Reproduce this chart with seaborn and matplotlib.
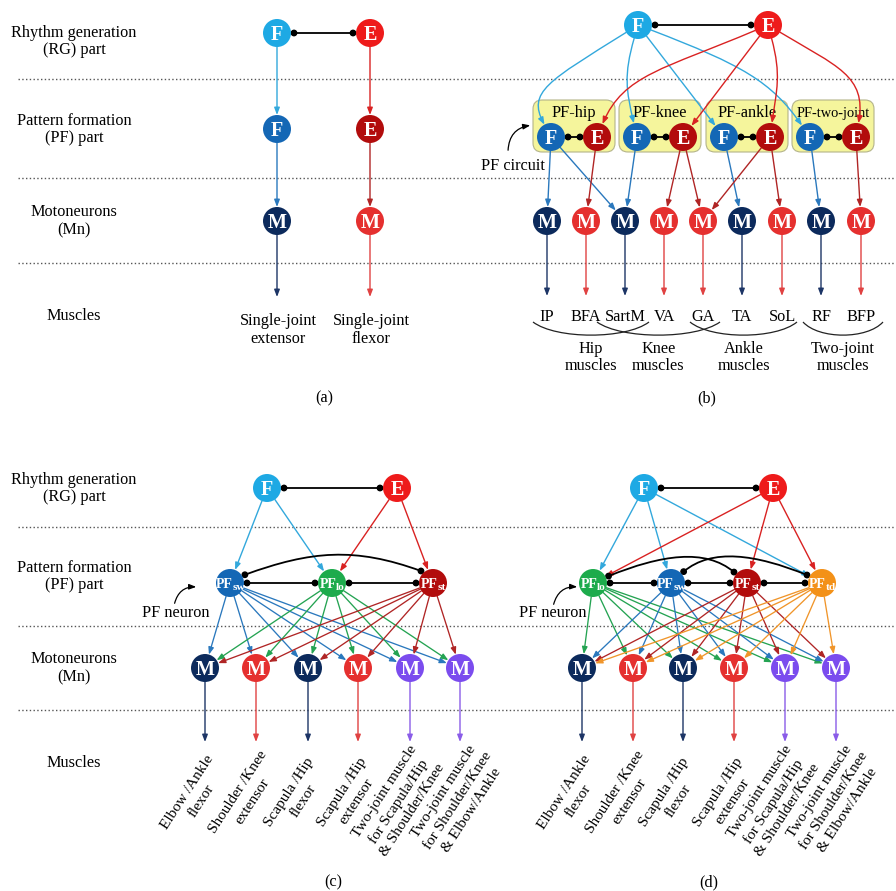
import numpy as np
import pandas as pd
import matplotlib
matplotlib.use("Agg")
import matplotlib.pyplot as plt
from matplotlib.patches import FancyArrowPatch, FancyBboxPatch, Circle, PathPatch
from matplotlib.path import Path
from matplotlib.textpath import TextPath
from matplotlib.font_manager import FontProperties
import seaborn as sns

# ---------------------------------------------------------------- content
ROW_NAMES = ["Rhythm generation\n(RG) part", "Pattern formation\n(PF) part",
             "Motoneurons\n(Mn)", "Muscles"]
PANEL_TAGS = ["(a)", "(b)", "(c)", "(d)"]

# (a) single-joint scheme
A_HALVES = ["F", "E"]
A_MN_KIND = ["mnF", "mnE"]
A_MUSCLES = ["Single-joint\nextensor", "Single-joint\nflexor"]

# (b) hindlimb scheme with one PF circuit per joint
B_CIRCUITS = ["PF-hip", "PF-knee", "PF-ankle", "PF-two-joint"]
B_MUSCLES = ["IP", "BFA", "SartM", "VA", "GA", "TA", "SoL", "RF", "BFP"]
B_MN_KIND = ["mnF", "mnE", "mnF", "mnE", "mnE", "mnF", "mnE", "mnF", "mnE"]
# (circuit, half, motoneuron)
B_PF_TO_MN = [(0, "F", 0), (0, "F", 2), (0, "E", 1), (1, "F", 2), (1, "E", 3),
              (1, "E", 4), (2, "F", 5), (2, "E", 4), (2, "E", 6), (3, "F", 7),
              (3, "E", 8)]
B_GROUPS = ["Hip\nmuscles", "Knee\nmuscles", "Ankle\nmuscles", "Two-joint\nmuscles"]

# (c) / (d) quadruped limb schemes
LIMB_MUSCLES = ["Elbow /Ankle\nflexor", "Shoulder /Knee\nextensor",
                "Scapula /Hip\nflexor", "Scapula /Hip\nextensor",
                "Two-joint muscle\nfor Scapula/Hip\n& Shoulder/Knee",
                "Two-joint muscle\nfor Shoulder/Knee\n& Elbow/Ankle"]
LIMB_MN_KIND = ["mnF", "mnE", "mnF", "mnE", "mn2", "mn2"]

C_PF = ["sw", "lo", "st"]
C_PF_KIND = ["pfF", "lo", "pfE"]
C_RG_LINKS = [("F", "sw"), ("F", "lo"), ("E", "lo"), ("E", "st")]
C_INHIBIT = [("sw", "lo"), ("lo", "st"), ("sw", "st")]

D_PF = ["lo", "sw", "st", "td"]
D_PF_KIND = ["lo", "pfF", "pfE", "td"]
D_RG_LINKS = [("F", "lo"), ("F", "sw"), ("F", "td"),
              ("E", "lo"), ("E", "st"), ("E", "td")]
D_INHIBIT = [("lo", "sw"), ("sw", "st"), ("st", "td"), ("lo", "st"), ("sw", "td")]

# ---------------------------------------------------------------- look
FILL = {"rgF": "#1ea9e4", "rgE": "#ee1b1b", "pfF": "#1467b5", "pfE": "#b20c0c",
        "mnF": "#0c2a5c", "mnE": "#e5302f", "mn2": "#7b4cee",
        "lo": "#1dab4c", "td": "#f39118"}
WIRE = {"rgF": "#33a8dc", "rgE": "#d92222", "pfF": "#2a78bd", "pfE": "#b02525",
        "mnF": "#1d3566", "mnE": "#e04242", "mn2": "#8a5ce8",
        "lo": "#24a352", "td": "#f0952a"}

sns.set_theme(style="white")
plt.rcParams["font.family"] = ["Liberation Serif", "DejaVu Serif"]

W, H = 896, 891
PX = 100 / 72   # pixels per point
fig = plt.figure(figsize=(W / 100, H / 100), dpi=100)
ax = fig.add_axes([0, 0, 1, 1])

R = 14          # node radius (px)
TXT = 11.7      # body text size (pt)
BOLD = FontProperties(family="Liberation Serif", weight="bold")
nodes = []


def add_node(xy, kind, label, sub=None, fs=14.5):
    nodes.append(dict(x=xy[0], y=xy[1], kind=kind, label=label, sub=sub, fs=fs))


def _dir(deg):
    t = np.radians(deg)
    return np.array([np.cos(t), np.sin(t)])


def wire(p, q, color, t0=None, t1=None, a0=None, a1=None, ra=R, rb=R,
         k0=0.4, k1=0.4, head=True, lw=1.0, z=3):
    """Cubic connector between two node centres (y grows downwards)."""
    p = np.asarray(p, float)
    q = np.asarray(q, float)
    chord = np.degrees(np.arctan2(q[1] - p[1], q[0] - p[0]))
    t0 = chord if t0 is None else t0
    t1 = chord if t1 is None else t1
    a0 = t0 if a0 is None else a0
    a1 = t1 + 180 if a1 is None else a1
    s = p + ra * _dir(a0)
    e = q + rb * _dir(a1)
    L = np.hypot(*(e - s))
    c1 = s + k0 * L * _dir(t0)
    c2 = e - k1 * L * _dir(t1)
    path = Path([s, c1, c2, e], [Path.MOVETO, Path.CURVE4, Path.CURVE4, Path.CURVE4])
    if head:
        ax.add_patch(FancyArrowPatch(path=path,
                                     arrowstyle="-|>,head_length=0.42,head_width=0.16",
                                     mutation_scale=10, color=color, lw=lw, zorder=z))
    else:
        ax.add_patch(PathPatch(path, fill=False, edgecolor=color, lw=lw, zorder=z))
    return s, e


def inhibit(p, q, **kw):
    s, e = wire(p, q, "black", head=False, ra=R + 3, rb=R + 3, lw=1.3, **kw)
    for c in (s, e):
        ax.add_patch(Circle(c, 2.7, color="black", zorder=4))


def label(x, y, s, fs=TXT, **kw):
    ax.text(x, y, s, fontsize=fs, ha="center", va="center", linespacing=1.15,
            color="black", **kw)


def slanted(x, y, s, angle=57, step=17.0, fs=11.0):
    """Rotated multi-line caption; (x, y) is the centre of the first line."""
    normal = _dir(90 - angle)          # perpendicular to the text, pointing down-right
    for k, line in enumerate(s.split("\n")):
        cx, cy = np.array([x, y]) + k * step * normal
        ax.text(cx, cy, line, fontsize=fs, rotation=angle, rotation_mode="anchor",
                ha="center", va="center_baseline", color="black")


def text_width(s, fs):
    return TextPath((0, 0), s, size=fs * PX, prop=BOLD).get_extents().width


# ---------------------------------------------------------------- frame
for y in [79, 178, 263, 527, 626, 710]:
    ax.plot([18, W], [y, y], color="#555555", lw=1.0, ls=(0, (1, 1.7)), zorder=1)

for ys in ([41.5, 129.5, 221, 316], [488.5, 576.5, 668, 763]):
    for name, y in zip(ROW_NAMES, ys):
        label(74, y, name)

for tag, (x, y) in zip(PANEL_TAGS, [(324, 398), (707, 398), (333, 882), (709, 882)]):
    label(x, y, tag)

# ---------------------------------------------------------------- (a)
A_X = [277, 370]
for half, x, mk, mus in zip(A_HALVES, A_X, A_MN_KIND, A_MUSCLES):
    rg, pf, mn = (x, 33), (x, 129), (x, 221)
    add_node(rg, "rg" + half, half)
    add_node(pf, "pf" + half, half)
    add_node(mn, mk, "M")
    wire(rg, pf, WIRE["rg" + half])
    wire(pf, mn, WIRE["pf" + half])
    wire(mn, (x, 297), WIRE[mk], rb=0)
    label(x + 1, 330, mus)
inhibit((A_X[0], 33), (A_X[1], 33))

# ---------------------------------------------------------------- (b)
B_RG = {"F": (638, 25), "E": (768, 25)}
for h in "FE":
    add_node(B_RG[h], "rg" + h, h)
inhibit(B_RG["F"], B_RG["E"])

B_BOX_X = [574, 660, 747, 833]
B_PF = {}
for i, (name, bx) in enumerate(zip(B_CIRCUITS, B_BOX_X)):
    ax.add_patch(FancyBboxPatch((bx - 41, 100), 82, 52,
                                boxstyle="round,pad=0,rounding_size=9",
                                facecolor="#f5f59c", edgecolor="#b4b48a",
                                lw=0.8, zorder=1.5))
    label(bx, 113, name, fs=TXT if i < 3 else 10.4)
    B_PF[(i, "F")] = (bx - 23, 137)
    B_PF[(i, "E")] = (bx + 23, 137)
    add_node(B_PF[(i, "F")], "pfF", "F")
    add_node(B_PF[(i, "E")], "pfE", "E")
    inhibit(B_PF[(i, "F")], B_PF[(i, "E")])

B_RG_SHAPE = {
    ("F", 0): dict(t0=148, t1=62, k0=0.75, k1=0.3),
    ("F", 1): dict(t0=106, t1=77, k0=0.45, k1=0.4),
    ("F", 2): dict(),
    ("F", 3): dict(t0=21, t1=55, k0=0.55, k1=0.3),
    ("E", 0): dict(t0=157, t1=113, k0=0.55, k1=0.3),
    ("E", 1): dict(),
    ("E", 2): dict(t0=75, t1=98, k0=0.45, k1=0.4),
    ("E", 3): dict(t0=31, t1=100, k0=0.55, k1=0.4),
}
for (h, i), shape in B_RG_SHAPE.items():
    wire(B_RG[h], B_PF[(i, h)], WIRE["rg" + h], **shape)

B_MN_X = [547, 586, 625, 664, 703, 742, 782, 821, 861]
for x, mk, mus in zip(B_MN_X, B_MN_KIND, B_MUSCLES):
    add_node((x, 221), mk, "M")
    wire((x, 221), (x, 296), WIRE[mk], rb=0)
    label(x, 317, mus)
for i, h, m in B_PF_TO_MN:
    wire(B_PF[(i, h)], (B_MN_X[m], 221), WIRE["pf" + h])

B_SPANS = [(533, 649), (597, 720), (690, 797), (803, 883)]
for name, (x0, x1) in zip(B_GROUPS, B_SPANS):
    span = x1 - x0
    top, dip = 322, 17.5
    brace = Path([(x0, top), (x0 + 0.2 * span, top + dip),
                  (x1 - 0.2 * span, top + dip), (x1, top)],
                 [Path.MOVETO, Path.CURVE4, Path.CURVE4, Path.CURVE4])
    ax.add_patch(PathPatch(brace, fill=False, edgecolor="#222222", lw=0.9, zorder=2))
    label((x0 + x1) / 2, 357.5, name)

label(513, 166, "PF circuit")
ax.add_patch(FancyArrowPatch((508, 153), (533, 125), connectionstyle="arc3,rad=-0.45",
                             arrowstyle="-|>,head_length=0.42,head_width=0.16",
                             mutation_scale=10, color="black", lw=0.9, zorder=3))

# ---------------------------------------------------------------- (c) and (d)
CAPTION_DX = [-19, -19, -20, -17, -27, -18]   # first-line centre relative to its Mn


def limb_panel(rg_x, pf_names, pf_kinds, pf_x, rg_links, inhibits, arc_shapes,
               mn_x, note_xy, note_arrow):
    rg = {"F": (rg_x[0], 488), "E": (rg_x[1], 488)}
    for h in "FE":
        add_node(rg[h], "rg" + h, h)
    inhibit(rg["F"], rg["E"])
    pf = {n: (x, 583) for n, x in zip(pf_names, pf_x)}
    for n, k in zip(pf_names, pf_kinds):
        add_node(pf[n], k, "PF", sub=n, fs=10.0)
    for h, n in rg_links:
        wire(rg[h], pf[n], WIRE["rg" + h])
    for a, b in inhibits:
        inhibit(pf[a], pf[b], **arc_shapes.get((a, b), {}))
    for x, mk, mus, dx in zip(mn_x, LIMB_MN_KIND, LIMB_MUSCLES, CAPTION_DX):
        add_node((x, 668), mk, "M")
        wire((x, 668), (x, 742), WIRE[mk], rb=0)
        slanted(x + dx, 791, mus)
    for n, k in zip(pf_names, pf_kinds):
        for x in mn_x:
            wire(pf[n], (x, 668), WIRE[k], lw=0.95)
    label(note_xy[0], note_xy[1], "PF neuron")
    ax.add_patch(FancyArrowPatch(note_arrow[0], note_arrow[1],
                                 connectionstyle="arc3,rad=-0.45",
                                 arrowstyle="-|>,head_length=0.42,head_width=0.16",
                                 mutation_scale=10, color="black", lw=0.9, zorder=3))


limb_panel([267, 397], C_PF, C_PF_KIND, [230, 332, 433], C_RG_LINKS, C_INHIBIT,
           {("sw", "st"): dict(a0=-29, t0=-20, a1=-135, t1=20, k0=0.4, k1=0.4)},
           [205, 256, 308, 358, 410, 460], (176, 613), ((174, 606), (199, 587)))

limb_panel([644, 773], D_PF, D_PF_KIND, [593, 671, 747, 822], D_RG_LINKS, D_INHIBIT,
           {("lo", "st"): dict(a0=-24, t0=-22, a1=-140, t1=40, k0=0.45, k1=0.3),
            ("sw", "td"): dict(a0=-42, t0=-40, a1=-152, t1=22, k0=0.3, k1=0.45)},
           [582, 633, 683, 734, 785, 836], (553, 613), ((553, 607), (580, 587)))

# ---------------------------------------------------------------- nodes
nd = pd.DataFrame(nodes)
sns.scatterplot(data=nd, x="x", y="y", hue="kind", palette=FILL,
                s=(2 * R * 0.72) ** 2, linewidth=0, legend=False, ax=ax, zorder=5)
SUB_FS = 8.2
for r in nd.itertuples():
    base = r.y + 0.33 * r.fs * PX
    if r.sub is None:
        ax.text(r.x, base, r.label, fontsize=r.fs, color="white",
                fontweight="bold", ha="center", va="baseline", zorder=6)
    else:
        w_main = text_width(r.label, r.fs)
        w_sub = text_width(r.sub, SUB_FS)
        left = r.x - (w_main + w_sub + 0.5) / 2
        ax.text(left, base, r.label, fontsize=r.fs, color="white",
                fontweight="bold", ha="left", va="baseline", zorder=6)
        ax.text(left + w_main + 0.5, base + 2.6, r.sub, fontsize=SUB_FS, color="white",
                fontweight="bold", ha="left", va="baseline", zorder=6)

ax.set_xlim(0, W)
ax.set_ylim(H, 0)
ax.axis("off")
fig.savefig("out.png", dpi=100)
